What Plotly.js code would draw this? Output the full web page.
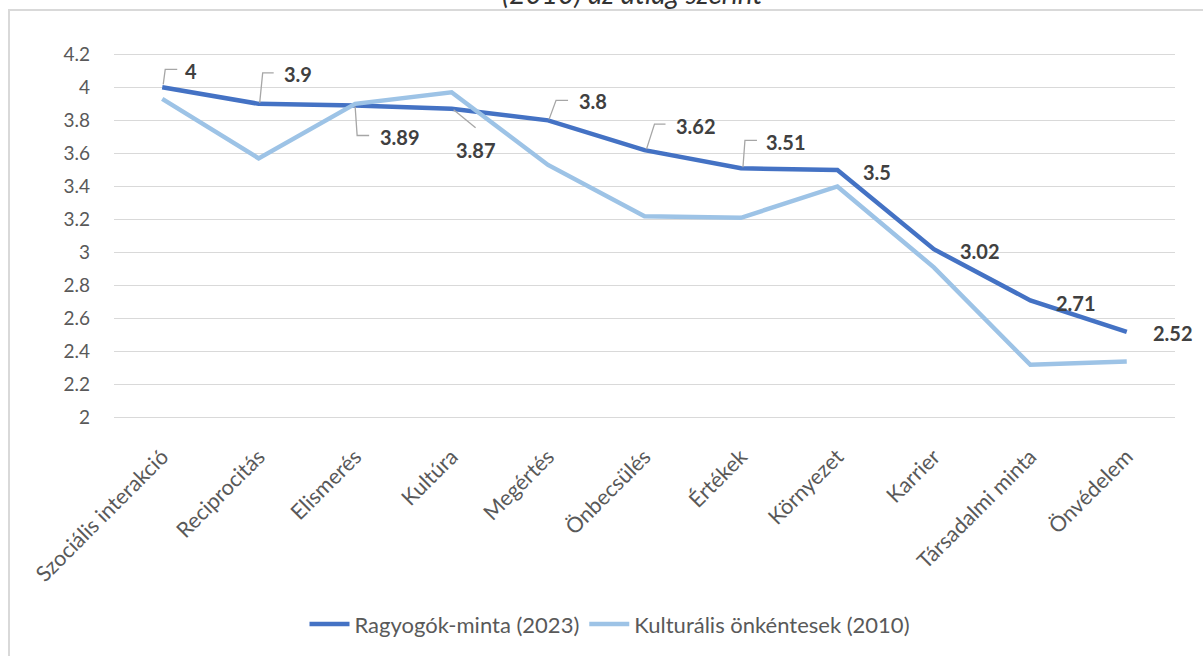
<!DOCTYPE html>
<html>
<head>
<meta charset="utf-8">
<script src="https://cdn.plot.ly/plotly-3.0.1.min.js"></script>
<style>
  body { margin: 0; background: #fff; }
  #wrap { position: relative; width: 1203px; height: 656px; overflow: hidden; }
  #chart { width: 1203px; height: 656px; }
  #frame { position: absolute; left: 8px; top: 9px; right: -5px; bottom: -5px;
           border-left: 2px solid #d9d9d9; border-top: 2px solid #d9d9d9; pointer-events: none; }
</style>
</head>
<body>
<div id="wrap">
  <div id="chart"></div>
  <div id="frame"></div>
</div>
<script>
const categories = ["Szociális interakció", "Reciprocitás", "Elismerés", "Kultúra", "Megértés",
  "Önbecsülés", "Értékek", "Környezet", "Karrier", "Társadalmi minta", "Önvédelem"];
const ragyogok2023 = [4, 3.9, 3.89, 3.87, 3.8, 3.62, 3.51, 3.5, 3.02, 2.71, 2.52];
const kulturalis2010 = [3.93, 3.57, 3.9, 3.97, 3.53, 3.22, 3.21, 3.40, 2.91, 2.32, 2.34];
const seriesNames = ["Ragyogók-minta (2023)", "Kulturális önkéntesek (2010)"];
const yTicks = [2, 2.2, 2.4, 2.6, 2.8, 3, 3.2, 3.4, 3.6, 3.8, 4, 4.2];
const titleText = "(2010) az átlag szerint";

// label placement (pixel shifts from the point, y up) and leader-line paths (pixels, y up)
const labelShift = [
  [29, 16.5], [39, 29.5], [45, -31], [24, -41], [45, 19],
  [51, 24], [45.5, 26], [39.5, -2], [46.5, -2], [46, -2.5], [46, -1.5]
];
const leaderPaths = [
  "M1,3 L3,18 L15,18", "M1,1 L4,31 L15,31", "M0,-1 L2,-30 L14,-30", "M2,-1 L24,-19",
  "M1,1 L8,20 L20,20", "M2,1 L10,26 L21,26", "M2,1 L4,28 L16,28", null, null, null, null
];

const font = "Lato, 'Open Sans', sans-serif";

const traces = [
  { x: categories, y: ragyogok2023, name: seriesNames[0], type: "scatter", mode: "lines",
    line: { color: "#4472C4", width: 4.5 } },
  { x: categories, y: kulturalis2010, name: seriesNames[1], type: "scatter", mode: "lines",
    line: { color: "#9DC3E6", width: 4.5 } }
];

const annotations = ragyogok2023.map((v, i) => ({
  x: categories[i], y: v, xref: "x", yref: "y", text: "<b>" + v + "</b>",
  showarrow: false, xshift: labelShift[i][0], yshift: labelShift[i][1],
  font: { family: font, size: 20, color: "#404040" }
}));

annotations.push({ text: "<i>" + titleText + "</i>", xref: "paper", yref: "paper",
  x: (632 - 114) / 1061, y: 1.156, xanchor: "center", yanchor: "middle", showarrow: false,
  font: { family: font, size: 28, color: "#333333" } });

const shapes = [];
ragyogok2023.forEach((v, i) => {
  if (!leaderPaths[i]) return;
  shapes.push({ type: "path", xref: "x", yref: "y", xsizemode: "pixel", ysizemode: "pixel",
    xanchor: categories[i], yanchor: v, path: leaderPaths[i],
    line: { color: "#a6a6a6", width: 1.3 } });
});

const layout = {
  width: 1203, height: 656,
  margin: { l: 114, r: 28, t: 50.7, b: 233.7 },
  paper_bgcolor: "#ffffff", plot_bgcolor: "#ffffff",
  showlegend: true,
  legend: { orientation: "h", x: (610 - 114) / 1061, xanchor: "center", y: -0.545, yanchor: "middle",
    font: { family: font, size: 22, color: "#595959" }, itemwidth: 40 },
  xaxis: { type: "category", range: [-0.5, 10.5], tickangle: -45, showgrid: false,
    showline: false, ticks: "", ticklabelstandoff: 18,
    tickfont: { family: font, size: 21.5, color: "#595959" } },
  yaxis: { range: [1.98, 4.22], tickvals: yTicks, ticktext: yTicks.map(String),
    showgrid: true, gridcolor: "#d9d9d9", gridwidth: 1.3, zeroline: false, showline: false,
    ticks: "", ticklabelstandoff: 23,
    tickfont: { family: font, size: 19, color: "#595959" } },
  annotations: annotations,
  shapes: shapes
};

Plotly.newPlot("chart", traces, layout, { displayModeBar: false, staticPlot: true });
</script>
</body>
</html>
